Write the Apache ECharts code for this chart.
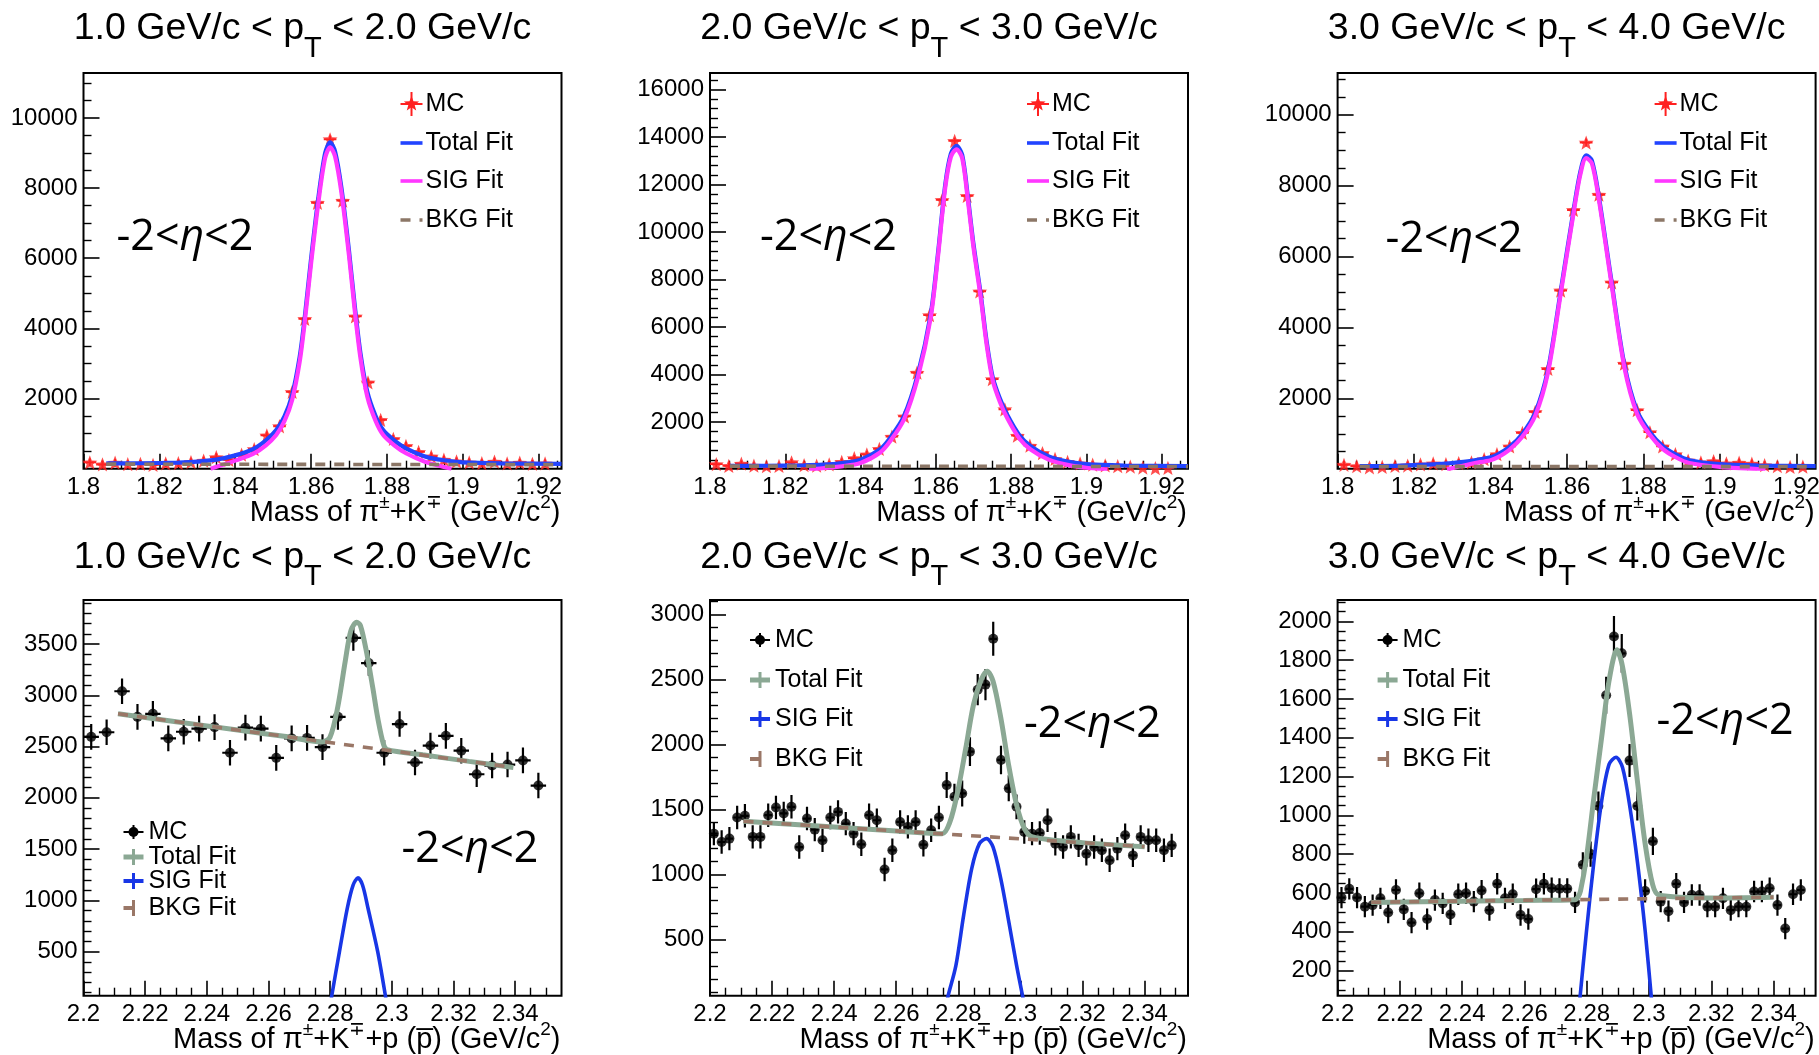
<!DOCTYPE html>
<html>
<head>
<meta charset="utf-8">
<script src="https://cdn.jsdelivr.net/npm/echarts@6/dist/echarts.min.js"></script>
<style>
html, body { margin: 0; padding: 0; background: #fff; }
#chart { width: 1819px; height: 1055px; }
</style>
</head>
<body>
<div id="chart"></div>
<script>
// ---------------- data ----------------
// pT bins shown in the panel headers
const ptBins = [['1.0', '2.0'], ['2.0', '3.0'], ['3.0', '4.0']];

// D0 -> pi K : bin centres (GeV/c^2)
const binsD = [1.80167, 1.805, 1.80833, 1.81167, 1.815, 1.81833, 1.82167, 1.825, 1.82833, 1.83167,
  1.835, 1.83833, 1.84167, 1.845, 1.84833, 1.85167, 1.855, 1.85833, 1.86167, 1.865,
  1.86833, 1.87167, 1.875, 1.87833, 1.88167, 1.885, 1.88833, 1.89167, 1.895, 1.89833,
  1.90167, 1.905, 1.90833, 1.91167, 1.915, 1.91833, 1.92167];

const mcD1 = [180, 120, 170, 130, 140, 110, 150, 160, 190, 230, 330, 250, 400, 560, 950, 1210, 2190, 4270, 7580, 9390,
  7640, 4340, 2460, 1390, 850, 650, 480, 350, 260, 210, 180, 160, 200, 150, 170, 140, 150];
const mcD2 = [230, 160, 250, 170, 150, 160, 310, 190, 170, 220, 330, 480, 640, 870, 1390, 2240, 4080, 6500, 11350, 13830,
  11520, 7500, 3810, 2540, 1430, 1010, 700, 450, 330, 260, 210, 180, 150, 130, 90, 60, 70];
const mcD3 = [130, 90, 60, 70, 100, 110, 140, 170, 150, 180, 200, 290, 430, 650, 1030, 1620, 2830, 5040, 7310, 9210,
  7740, 5270, 2980, 1670, 1050, 650, 430, 250, 200, 230, 170, 190, 160, 120, 90, 70, 80];
const errD = [110, 140, 110];

const d1Total = [[1.806,150],[1.815,155],[1.825,175],[1.83,200],[1.835,260],[1.84,380],[1.8447,560],[1.848,800],[1.8508,1100],[1.853,1500],[1.855,2100],[1.857,3200],[1.8583,4300],[1.86,6000],[1.862,7800],[1.8637,9000],[1.865,9300],[1.8663,9050],[1.868,8000],[1.87,6200],[1.8715,4650],[1.873,3300],[1.8748,2200],[1.877,1500],[1.879,1100],[1.882,800],[1.885,580],[1.89,350],[1.895,240],[1.9,180],[1.91,150],[1.926,140]];
const d1Sig = [[1.8335,0],[1.837,120],[1.84,230],[1.8447,420],[1.848,660],[1.8508,960],[1.853,1360],[1.855,1960],[1.857,3060],[1.8583,4160],[1.86,5860],[1.862,7660],[1.8637,8860],[1.865,9160],[1.8663,8910],[1.868,7860],[1.87,6060],[1.8715,4510],[1.873,3160],[1.8748,2060],[1.877,1360],[1.879,960],[1.882,660],[1.885,440],[1.89,200],[1.897,0]];
const d1Bkg = [[1.806,130],[1.926,115]];

const d2Total = [[1.8053,160],[1.815,165],[1.825,185],[1.83,210],[1.835,280],[1.84,420],[1.8452,860],[1.8481,1390],[1.8515,2240],[1.8552,4000],[1.8586,6500],[1.8605,9000],[1.8625,12000],[1.864,13300],[1.8655,13620],[1.867,13250],[1.8685,11500],[1.87,9500],[1.872,7300],[1.8735,5400],[1.8751,3900],[1.877,3000],[1.879,2300],[1.8822,1450],[1.8851,1000],[1.89,560],[1.895,340],[1.9,230],[1.91,175],[1.927,150]];
const d2Sig = [[1.8263,0],[1.83,60],[1.835,140],[1.84,280],[1.8452,720],[1.8481,1250],[1.8515,2100],[1.8552,3860],[1.8586,6360],[1.8605,8860],[1.8625,11860],[1.864,13160],[1.8655,13480],[1.867,13110],[1.8685,11360],[1.87,9360],[1.872,7160],[1.8735,5260],[1.8751,3760],[1.877,2860],[1.879,2160],[1.8822,1310],[1.8851,860],[1.89,420],[1.895,200],[1.9,80],[1.9056,0]];
const d2Bkg = [[1.8053,150],[1.927,130]];

const d3Total = [[1.8058,90],[1.815,100],[1.825,140],[1.83,180],[1.835,240],[1.84,340],[1.8417,410],[1.845,640],[1.8483,1000],[1.8517,1600],[1.855,2800],[1.8583,5000],[1.8617,7300],[1.8635,8400],[1.865,8850],[1.8665,8700],[1.8683,7700],[1.8717,5250],[1.875,2950],[1.8783,1650],[1.8817,1050],[1.885,660],[1.8883,430],[1.892,260],[1.9,150],[1.91,110],[1.925,90]];
const d3Sig = [[1.8286,0],[1.835,160],[1.84,260],[1.8417,330],[1.845,560],[1.8483,920],[1.8517,1520],[1.855,2720],[1.8583,4920],[1.8617,7220],[1.8635,8320],[1.865,8770],[1.8665,8620],[1.8683,7620],[1.8717,5170],[1.875,2870],[1.8783,1570],[1.8817,970],[1.885,580],[1.8883,350],[1.892,180],[1.9,70],[1.9119,0]];
const d3Bkg = [[1.8058,80],[1.925,78]];

// Lambda_c -> p K pi : bin centres (GeV/c^2)
const binsL1 = [2.2025, 2.2075, 2.2125, 2.2175, 2.2225, 2.2275, 2.2325, 2.2375, 2.2425, 2.2475,
  2.2525, 2.2575, 2.2625, 2.2675, 2.2725, 2.2775, 2.2825, 2.2875, 2.2925, 2.2975,
  2.3025, 2.3075, 2.3125, 2.3175, 2.3225, 2.3275, 2.3325, 2.3375, 2.3425, 2.3475];
const binsL = [2.20125, 2.20375, 2.20625, 2.20875, 2.21125, 2.21375, 2.21625, 2.21875, 2.22125, 2.22375,
  2.22625, 2.22875, 2.23125, 2.23375, 2.23625, 2.23875, 2.24125, 2.24375, 2.24625, 2.24875,
  2.25125, 2.25375, 2.25625, 2.25875, 2.26125, 2.26375, 2.26625, 2.26875, 2.27125, 2.27375,
  2.27625, 2.27875, 2.28125, 2.28375, 2.28625, 2.28875, 2.29125, 2.29375, 2.29625, 2.29875,
  2.30125, 2.30375, 2.30625, 2.30875, 2.31125, 2.31375, 2.31625, 2.31875, 2.32125, 2.32375,
  2.32625, 2.32875, 2.33125, 2.33375, 2.33625, 2.33875, 2.34125, 2.34375, 2.34625, 2.34875];

const mcL1 = [2595, 2640, 3040, 2790, 2820, 2580, 2645, 2675, 2690, 2440, 2685, 2675, 2390, 2580, 2585,
  2495, 2790, 3560, 3315, 2440, 2720, 2345, 2510, 2605, 2460, 2230, 2315, 2325, 2365, 2120];
const errL1 = 125;
const mcL2 = [1315, 1251, 1277, 1439, 1452, 1290, 1290, 1457, 1516, 1470, 1521, 1212, 1431, 1346, 1264,
  1439, 1482, 1392, 1315, 1233, 1457, 1418, 1040, 1187, 1405, 1367, 1405, 1230, 1341, 1439,
  1688, 1598, 1624, 1945, 2421, 2460, 2812, 1881, 1663, 1521, 1328, 1315, 1320, 1418, 1238,
  1212, 1290, 1225, 1161, 1212, 1187, 1110, 1200, 1302, 1148, 1290, 1264, 1264, 1187, 1225];
const errL2 = [90, 90, 90, 90, 90, 90, 90, 90, 90, 90, 90, 90, 90, 90, 90,
  90, 90, 90, 90, 90, 90, 90, 90, 90, 90, 90, 90, 90, 90, 90,
  100, 100, 100, 110, 120, 120, 130, 110, 100, 95, 90, 90, 90, 90, 90,
  90, 90, 90, 90, 90, 90, 90, 90, 90, 90, 90, 90, 90, 90, 90];
const mcL3 = [576, 621, 576, 529, 537, 572, 499, 615, 515, 447, 598, 465, 563, 546, 489,
  593, 598, 555, 612, 511, 647, 572, 593, 486, 465, 619, 647, 624, 621, 621,
  551, 745, 800, 1048, 1619, 1922, 1835, 1282, 1048, 610, 866, 555, 506, 647, 551,
  589, 589, 529, 529, 572, 511, 529, 529, 607, 607, 624, 537, 416, 593, 615];
const errL3 = [55, 55, 55, 55, 55, 55, 55, 55, 55, 55, 55, 55, 55, 55, 55,
  55, 55, 55, 55, 55, 55, 55, 55, 55, 55, 55, 55, 55, 55, 55,
  55, 65, 65, 75, 95, 105, 100, 85, 75, 60, 70, 55, 55, 55, 55,
  55, 55, 55, 55, 55, 55, 55, 55, 55, 55, 55, 55, 55, 55, 55];

const l1Total = [[2.2112,2820],[2.23,2743],[2.25,2661],[2.265,2600],[2.2774,2546],[2.2799,2590],[2.2824,2879],[2.2849,3337],[2.2867,3631],[2.2886,3712],[2.2898,3680],[2.2917,3435],[2.2938,3075],[2.2954,2781],[2.2973,2520],[2.2985,2471],[2.31,2420],[2.325,2356],[2.3394,2297]];
const l1Sig = [[2.2802,0],[2.2805,69],[2.283,500],[2.2855,918],[2.2874,1147],[2.289,1219],[2.2905,1147],[2.2923,918],[2.2954,500],[2.2979,69],[2.2982,0]];
const l1Bkg = [[2.2112,2820],[2.3394,2297]];

const l2Total = [[2.2108,1410],[2.24,1366],[2.26,1336],[2.2748,1315],[2.2773,1405],[2.2798,1637],[2.2824,1971],[2.2849,2306],[2.2874,2499],[2.2893,2563],[2.2912,2486],[2.2937,2203],[2.2962,1843],[2.2988,1534],[2.3013,1354],[2.3039,1290],[2.32,1246],[2.34,1215]];
const l2Sig = [[2.2762,0],[2.2767,68],[2.2792,299],[2.2817,685],[2.2843,1045],[2.2868,1238],[2.2891,1277],[2.2912,1212],[2.2937,968],[2.2962,647],[2.2988,299],[2.3007,68],[2.3012,0]];
const l2Bkg = [[2.2108,1410],[2.34,1215]];

const l3Total = [[2.2108,551],[2.24,557],[2.26,561],[2.2762,565],[2.2772,580],[2.278,610],[2.2799,780],[2.2823,1091],[2.2848,1403],[2.2872,1697],[2.2897,1853],[2.2915,1766],[2.2939,1507],[2.2964,1160],[2.2988,849],[2.3012,641],[2.3031,590],[2.32,574],[2.34,578]];
const l3Sig = [[2.2775,0],[2.2779,70],[2.2799,399],[2.2823,760],[2.2848,1074],[2.2872,1264],[2.2894,1299],[2.2915,1247],[2.2939,1039],[2.2964,745],[2.2988,399],[2.3007,70],[2.3011,0]];
const l3Bkg = [[2.2108,552],[2.34,578]];

// axis tick labels
const xTicksD = [1.8, 1.82, 1.84, 1.86, 1.88, 1.9, 1.92];
const xTicksL = [2.2, 2.22, 2.24, 2.26, 2.28, 2.3, 2.32, 2.34];
const yTicksD1 = [2000, 4000, 6000, 8000, 10000];
const yTicksD2 = [2000, 4000, 6000, 8000, 10000, 12000, 14000, 16000];
const yTicksD3 = [2000, 4000, 6000, 8000, 10000];
const yTicksL1 = [500, 1000, 1500, 2000, 2500, 3000, 3500];
const yTicksL2 = [500, 1000, 1500, 2000, 2500, 3000];
const yTicksL3 = [200, 400, 600, 800, 1000, 1200, 1400, 1600, 1800, 2000];

// ---------------- styles & layout ----------------
const FONT = "'Liberation Sans', Arial, Helvetica, sans-serif";
const ETA_FONT = "'Open Sans', 'Noto Sans', sans-serif";
const RED = '#ff2020', BLUE = '#2244ff', MAGENTA = '#ff38ff', BROWN_D = '#8c7767';
const GREEN = '#8ba894', BLUE_L = '#1836e6', BROWN_L = '#9a7767';
const STAR = 'path://M0,-50L12.3,-17L47.6,-15.5L20,6.5L29.4,40.5L0,21L-29.4,40.5L-20,6.5L-47.6,-15.5L-12.3,-17Z';

const COLS = [83.5, 710, 1337.6];
const ROWS = [73, 600];
const PW = 478, PH = 395.7;
const TITLE_Y = [29, 557.5];
const AXTITLE_Y = [527, 1054];

const panels = [
  { col: 0, row: 0, xr: [1.8, 1.926], yr: [0, 11280], xt: xTicksD, yt: yTicksD1, xs: 0.005, ys: 500, kind: 'D',
    mx: binsD, my: mcD1, err: errD[0], half: 0.001667, total: d1Total, sig: d1Sig, bkg: d1Bkg, eta: [33, 165] },
  { col: 1, row: 0, xr: [1.8, 1.927], yr: [40, 16690], xt: xTicksD, yt: yTicksD2, xs: 0.005, ys: 400, kind: 'D',
    mx: binsD, my: mcD2, err: errD[1], half: 0.001667, total: d2Total, sig: d2Sig, bkg: d2Bkg, eta: [50, 165] },
  { col: 2, row: 0, xr: [1.8, 1.925], yr: [20, 11170], xt: xTicksD, yt: yTicksD3, xs: 0.005, ys: 500, kind: 'D',
    mx: binsD, my: mcD3, err: errD[2], half: 0.001667, total: d3Total, sig: d3Sig, bkg: d3Bkg, eta: [48, 167] },
  { col: 0, row: 1, xr: [2.2, 2.355], yr: [70, 3930], xt: xTicksL, yt: yTicksL1, xs: 0.005, ys: 100, kind: 'L',
    mx: binsL1, my: mcL1, err: errL1, half: 0.0025, total: l1Total, sig: l1Sig, bkg: l1Bkg, eta: [318, 250], leg: [232, 257, 281, 308] },
  { col: 1, row: 1, xr: [2.2, 2.354], yr: [70, 3110], xt: xTicksL, yt: yTicksL2, xs: 0.005, ys: 100, kind: 'L',
    mx: binsL, my: mcL2, err: errL2, half: 0.00125, total: l2Total, sig: l2Sig, bkg: l2Bkg, eta: [314, 125], leg: [40, 80, 119, 159] },
  { col: 2, row: 1, xr: [2.2, 2.3535], yr: [70, 2110], xt: xTicksL, yt: yTicksL3, xs: 0.005, ys: 50, kind: 'L',
    mx: binsL, my: mcL3, err: errL3, half: 0.00125, total: l3Total, sig: l3Sig, bkg: l3Bkg, eta: [319, 122], leg: [40, 80, 119, 159] }
];

// ---------------- helpers ----------------
function fmtTick(v) { return String(+(+v).toFixed(4)); }

function minorVals(lo, hi, step, majors) {
  const out = [];
  const k0 = Math.ceil(lo / step - 1e-9), k1 = Math.floor(hi / step + 1e-9);
  for (let k = k0; k <= k1; k++) {
    const v = +(k * step).toFixed(6);
    if (v <= lo || v >= hi) continue;
    if (majors.some(m => Math.abs(m - v) < step * 1e-3)) continue;
    out.push(v);
  }
  return out;
}

function makeAxes(isX, gi, range, majors, step) {
  const base = {
    gridIndex: gi, type: 'value', min: range[0], max: range[1],
    position: isX ? 'bottom' : 'left', offset: 0,
    splitLine: { show: false }, axisLine: { show: false }, axisPointer: { show: false }, silent: true
  };
  const main = Object.assign({}, base, {
    axisTick: { show: true, inside: true, length: isX ? 15 : 16, customValues: majors, lineStyle: { color: '#000', width: 1.6 } },
    axisLabel: { show: true, customValues: majors, formatter: fmtTick, color: '#000', fontFamily: FONT, fontSize: 24, margin: isX ? 7 : 6 }
  });
  const minor = Object.assign({}, base, {
    axisTick: { show: true, inside: true, length: 8, customValues: minorVals(range[0], range[1], step, majors), lineStyle: { color: '#000', width: 1.4 } },
    axisLabel: { show: false }
  });
  return [main, minor];
}

function errorBars(color, width, half) {
  return function (params, api) {
    const x = api.value(0), y = api.value(1), e = api.value(2);
    const c = api.coord([x, y]);
    const t = api.coord([x, y + e]);
    const b = api.coord([x, y - e]);
    const l = api.coord([x - half, y]);
    const r = api.coord([x + half, y]);
    return {
      type: 'group',
      children: [
        { type: 'line', shape: { x1: c[0], y1: t[1], x2: c[0], y2: b[1] }, style: { stroke: color, lineWidth: width } },
        { type: 'line', shape: { x1: l[0], y1: c[1], x2: r[0], y2: c[1] }, style: { stroke: color, lineWidth: width } }
      ]
    };
  };
}

function gLine(x1, y1, x2, y2, color, w, dash) {
  const st = { stroke: color, lineWidth: w };
  if (dash) st.lineDash = dash;
  return { type: 'line', z: 50, silent: true, shape: { x1, y1, x2, y2 }, style: st };
}
function gText(x, y, text, size, family, align, vAlign, rich) {
  const st = { text, fontSize: size, fontFamily: family, fill: '#000', align: align || 'left', verticalAlign: vAlign || 'middle' };
  if (rich) st.rich = rich;
  return { type: 'text', z: 50, silent: true, x, y, style: st };
}
function gStar(cx, cy, R, color) {
  const pts = [];
  for (let k = 0; k < 10; k++) {
    const a = -Math.PI / 2 + k * Math.PI / 5;
    const rr = k % 2 === 0 ? R : R * 0.42;
    pts.push([cx + rr * Math.cos(a), cy + rr * Math.sin(a)]);
  }
  return { type: 'polygon', z: 50, silent: true, shape: { points: pts }, style: { fill: color } };
}

const titleRich = {
  a: { fontFamily: FONT, fontSize: 37.5, fill: '#000', verticalAlign: 'top' },
  s: { fontFamily: FONT, fontSize: 29, fill: '#000', verticalAlign: 'top', padding: [24, 0, 0, 0] }
};
const axRich = {
  a: { fontFamily: FONT, fontSize: 29, fill: '#000', verticalAlign: 'bottom' },
  u: { fontFamily: FONT, fontSize: 19, fill: '#000', verticalAlign: 'bottom', padding: [0, 0, 15, 0] }
};
const etaRich = {
  a: { fontFamily: ETA_FONT, fontSize: 43, fill: '#000' },
  i: { fontFamily: ETA_FONT, fontSize: 43, fill: '#000', fontStyle: 'italic' }
};

// ---------------- build ----------------
const grids = [], xAxes = [], yAxes = [], series = [], gfx = [];

panels.forEach((p, i) => {
  const gx = COLS[p.col], gy = ROWS[p.row];
  grids.push({
    left: gx, top: gy, width: PW, height: PH, show: true,
    borderColor: '#000', borderWidth: 2, backgroundColor: 'rgba(0,0,0,0)',
    containLabel: false, outerBoundsMode: 'none'
  });
  xAxes.push(...makeAxes(true, i, p.xr, p.xt, p.xs));
  yAxes.push(...makeAxes(false, i, p.yr, p.yt, p.ys));

  const isD = p.kind === 'D';
  const mcColor = isD ? RED : '#000';
  const pts = p.mx.map((x, k) => [x, p.my[k], Array.isArray(p.err) ? p.err[k] : p.err]);
  const ax = { xAxisIndex: 2 * i, yAxisIndex: 2 * i };

  series.push(Object.assign({
    type: 'custom', clip: true, silent: true, z: 2,
    encode: { x: 0, y: 1 },
    renderItem: errorBars(mcColor, isD ? 1.8 : 2.2, p.half),
    data: pts
  }, ax));
  series.push(Object.assign({
    type: 'scatter', clip: true, silent: true, z: 3,
    symbol: isD ? STAR : 'circle', symbolSize: isD ? 15 : 10, symbolKeepAspect: true,
    itemStyle: { color: mcColor },
    data: p.mx.map((x, k) => [x, p.my[k]])
  }, ax));

  const lineBase = { type: 'line', showSymbol: false, symbol: 'none', clip: true, silent: true, z: 4 };
  series.push(Object.assign({}, lineBase, ax, {
    data: p.total, smooth: 0.3,
    lineStyle: { color: isD ? BLUE : GREEN, width: isD ? 4.2 : 5 }
  }));
  series.push(Object.assign({}, lineBase, ax, {
    data: p.sig, smooth: 0.3,
    lineStyle: { color: isD ? MAGENTA : BLUE_L, width: isD ? 4.2 : 3.6 }
  }));
  series.push(Object.assign({}, lineBase, ax, {
    data: p.bkg, smooth: false,
    lineStyle: { color: isD ? BROWN_D : BROWN_L, width: 3.6, type: [10, 9] }
  }));

  // header
  const pt = ptBins[p.col];
  gfx.push(gText(gx + 219, TITLE_Y[p.row] - 19,
    '{a|' + pt[0] + ' GeV/c < p}{s|T}{a| < ' + pt[1] + ' GeV/c}', 37.5, FONT, 'center', 'top', titleRich));

  // axis title
  const axText = isD
    ? '{a|Mass of \u03c0}{u|\u00b1}{a|+K}{u|\u2213}{a| (GeV/c}{u|2}{a|)}'
    : '{a|Mass of \u03c0}{u|\u00b1}{a|+K}{u|\u2213}{a|+p (p\u0305) (GeV/c}{u|2}{a|)}';
  gfx.push(gText(gx + PW - 1, AXTITLE_Y[p.row], axText, 29, FONT, 'right', 'bottom', axRich));

  // eta range
  gfx.push(gText(gx + p.eta[0], gy + p.eta[1], '{a|-2<}{i|\u03b7}{a|<2}', 43, ETA_FONT, 'left', 'middle', etaRich));

  // legend
  if (isD) {
    const mx = gx + 328, tx = gx + 342;
    const r = [gy + 31, gy + 70, gy + 108, gy + 147];
    gfx.push(gLine(mx, r[0] - 12, mx, r[0] + 12, RED, 2));
    gfx.push(gLine(mx - 11, r[0], mx + 11, r[0], RED, 2));
    gfx.push(gStar(mx, r[0], 8, RED));
    gfx.push(gLine(mx - 11, r[1], mx + 11, r[1], BLUE, 3.6));
    gfx.push(gLine(mx - 11, r[2], mx + 11, r[2], MAGENTA, 3.6));
    gfx.push(gLine(mx - 11, r[3], mx + 11, r[3], BROWN_D, 3.6, [10, 9]));
    ['MC', 'Total Fit', 'SIG Fit', 'BKG Fit'].forEach((t, k) => gfx.push(gText(tx, r[k], t, 25, FONT)));
  } else {
    const mx = gx + 50, tx = gx + 65;
    const r = p.leg.map(v => gy + v);
    gfx.push(gLine(mx, r[0] - 7, mx, r[0] + 7, '#000', 2));
    gfx.push(gLine(mx - 10, r[0], mx + 10, r[0], '#000', 2));
    gfx.push({ type: 'circle', z: 50, silent: true, shape: { cx: mx, cy: r[0], r: 5 }, style: { fill: '#000' } });
    gfx.push(gLine(mx - 10, r[1], mx + 10, r[1], GREEN, 5));
    gfx.push(gLine(mx, r[1] - 8, mx, r[1] + 8, GREEN, 3));
    gfx.push(gLine(mx - 10, r[2], mx + 10, r[2], BLUE_L, 4));
    gfx.push(gLine(mx, r[2] - 8, mx, r[2] + 8, BLUE_L, 3));
    gfx.push(gLine(mx - 10, r[3], mx + 10, r[3], BROWN_L, 4, [10, 10]));
    gfx.push(gLine(mx, r[3] - 8, mx, r[3] + 8, BROWN_L, 3));
    ['MC', 'Total Fit', 'SIG Fit', 'BKG Fit'].forEach((t, k) => gfx.push(gText(tx, r[k], t, 25, FONT)));
  }
});

const chart = echarts.init(document.getElementById('chart'), null, { renderer: 'canvas' });
chart.setOption({
  animation: false,
  backgroundColor: '#ffffff',
  grid: grids,
  xAxis: xAxes,
  yAxis: yAxes,
  series: series,
  graphic: { elements: gfx }
});
</script>
</body>
</html>
